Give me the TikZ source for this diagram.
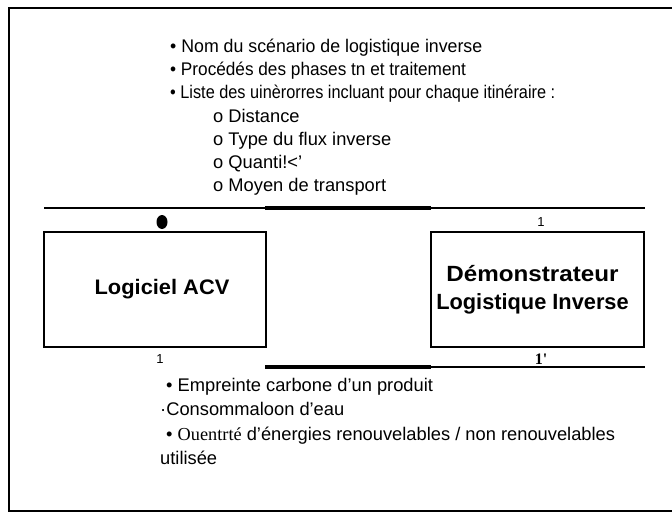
\documentclass[tikz,border=0pt]{standalone}
\usepackage{fontspec}
\usepackage{graphicx}
\setmainfont{Liberation Sans}
\newfontfamily\timesf{Liberation Serif}
\newcommand{\hs}[2]{\scalebox{#1}[1]{#2}}
\begin{document}
\begin{tikzpicture}[x=1pt,y=-1pt,
  txt/.style={anchor=base west,inner sep=0pt,font=\fontsize{18.3}{20}\selectfont},
  boxnode/.style={draw,line width=2pt,inner sep=0pt},
  lab/.style={font=\bfseries\fontsize{22}{26}\selectfont,align=center},
  thin/.style={line width=1.5pt},
  thick/.style={line width=4pt},
  num/.style={inner sep=0pt,font=\fontsize{13}{14}\selectfont}]
\useasboundingbox (0,0) rectangle (672,512);
% frame
\draw[line width=2.5pt] (672,8) -- (9,8) -- (9,511) -- (672,511);
% boxes
\node[boxnode,minimum width=222pt,minimum height=115pt] (L) at (155,289.5) {};
\node[boxnode,minimum width=213pt,minimum height=115pt] (R) at (537.5,289.5) {};
\node[lab,font=\bfseries\fontsize{21}{24}\selectfont] (Lt) at ([xshift=7pt]L.center) {\hs{1.04}{Logiciel ACV}};
\node[lab] (Rt) at ([xshift=-5pt]R.center) {\hs{1.1}{Démonstrateur}\\[2pt]\hs{0.99}{Logistique Inverse}};
% connector lines
\coordinate (ta) at (44,208);
\coordinate (tb) at (265,208);
\coordinate (tc) at (431,208);
\coordinate (td) at (645,208);
\draw[thin] (ta) -- (tb);
\draw[thick] (tb) -- (tc);
\draw[thin] (tc) -- (td);
\coordinate (bb) at (265,367);
\coordinate (bc) at (431,367);
\coordinate (bd) at (645,367);
\draw[thick] (bb) -- (bc);
\draw[thin] (bc) -- (bd);
% markers
\fill (162,222) ellipse [x radius=5.5,y radius=7];
\node[num] (n1) at (541,222) {1};
\node[num] (n2) at (160,359) {1};
\node[inner sep=0pt,font=\timesf\bfseries\fontsize{16}{16}\selectfont] (n3) at (541,359) {1'};
% top text
\node[txt] (a1) at (170,52) {\hs{0.97}{• Nom du scénario de logistique inverse}};
\node[txt] (a2) at (170,75) {\hs{0.94}{• Procédés des phases tn et traitement}};
\node[txt] (a3) at (170,98) {\hs{0.89}{• Liste des uinèrorres incluant pour chaque itinéraire :}};
\node[txt] (a4) at (213,122) {o Distance};
\node[txt] (a5) at (213,145) {o Type du flux inverse};
\node[txt] (a6) at (213,168) {o Quanti!<'};
\node[txt] (a7) at (213,191) {o Moyen de transport};
% bottom text
\node[txt] (b1) at (166,391) {• Empreinte carbone d'un produit};
\node[txt] (b2) at (160,415) {·Consommaloon d'eau};
\node[txt] (b3) at (166,440) {• {\timesf Ouentrté} d'énergies renouvelables / non renouvelables};
\node[txt] (b4) at (160,464) {utilisée};
\end{tikzpicture}
\end{document}
